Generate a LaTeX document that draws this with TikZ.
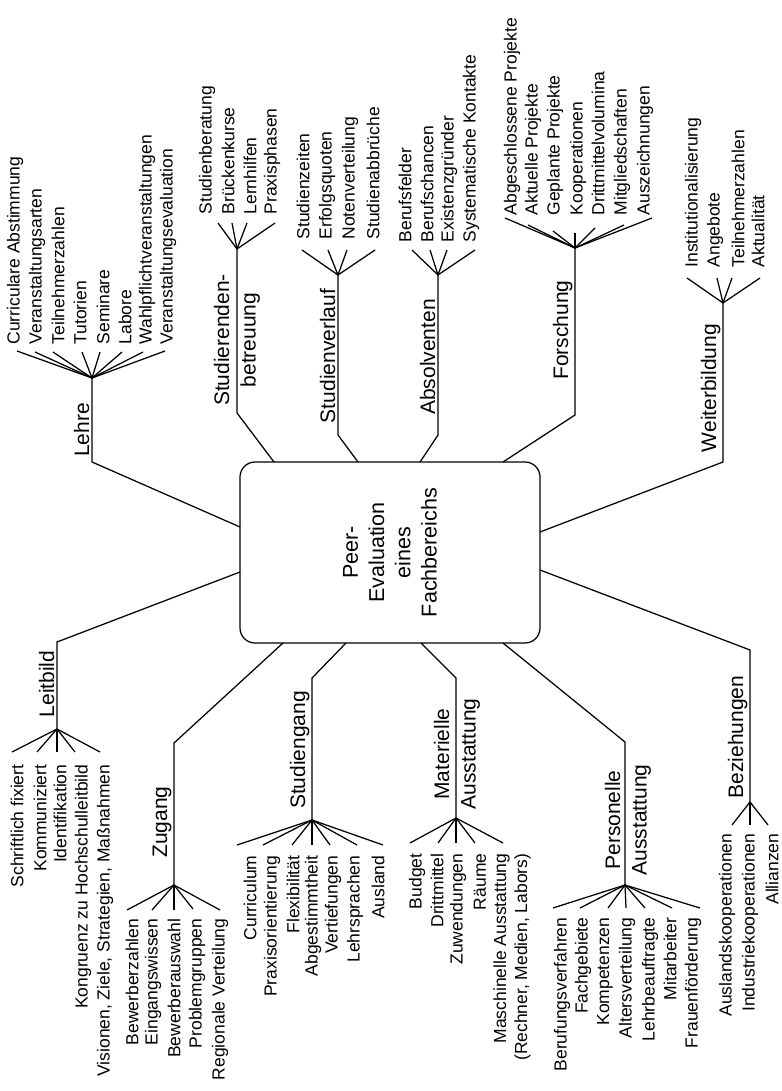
\documentclass[tikz,border=0pt]{standalone}
\usepackage{fontspec}
\setmainfont{Liberation Sans}
\begin{document}
\begin{tikzpicture}[x=1pt,y=-1pt,line width=1.25pt,
  leafT/.style={rotate=90,anchor=west,inner sep=0pt,font=\fontsize{17.5}{21}\selectfont},
  leafB/.style={rotate=90,anchor=east,inner sep=0pt,font=\fontsize{17.5}{21}\selectfont},
  lab/.style={rotate=90,anchor=south,inner sep=2pt,font=\fontsize{21}{26}\selectfont},
  labtwo/.style={rotate=90,anchor=center,align=center,inner sep=0pt,font=\fontsize{21}{26.5}\selectfont},
  hubstyle/.style={draw,rotate=90,rounded corners=15pt,minimum width=181pt,minimum height=300pt,
    align=center,inner sep=0pt,font=\fontsize{21.5}{26.3}\selectfont}]
\useasboundingbox (0,0) rectangle (781,1091);
\fill[white] (0,0) rectangle (781,1091);

\node[hubstyle] (hub) at (390,552.5) {Peer-\\Evaluation\\eines\\Fachbereichs};

% ---------- Lehre ----------
\coordinate (lehre-b) at (240,527);
\coordinate (lehre-k) at (92,462);
\coordinate (lehre-a) at (92,378);
\draw (lehre-b) -- (lehre-k) -- (lehre-a);
\node[lab] (lehre) at (92,430) {Lehre};
\foreach \tx/\ex/\ey/\t [count=\i] in {15/17/351/Curriculare Abstimmung,37/35/352/Veranstaltungsarten,58/53/352/Teilnehmerzahlen,80/82/352/Tutorien,103/100/352/Seminare,125/122/352/Labore,147/143/352/Wahlpflichtveranstaltungen,168/165/351/Veranstaltungsevaluation}{
  \coordinate (lehre-e\i) at (\ex,\ey);
  \draw (lehre-a) -- (lehre-e\i);
  \node[leafT] (lehre-l\i) at (\tx,345) {\t};
}

% ---------- Studierendenbetreuung ----------
\coordinate (sb-b) at (274,462);
\coordinate (sb-k) at (237,413);
\coordinate (sb-a) at (237,249);
\draw (sb-b) -- (sb-k) -- (sb-a);
\node[labtwo] (sb) at (237,340) {Studierenden-\\betreuung};
\foreach \tx/\ex/\ey/\t [count=\i] in {207/218/223/Studienberatung,228/232/223/Brückenkurse,250/247/223/Lernhilfen,272/275/223/Praxisphasen}{
  \coordinate (sb-e\i) at (\ex,\ey);
  \draw (sb-a) -- (sb-e\i);
  \node[leafT] (sb-l\i) at (\tx,215) {\t};
}

% ---------- Studienverlauf ----------
\coordinate (sv-b) at (358,462);
\coordinate (sv-k) at (338,435);
\coordinate (sv-a) at (338,275);
\draw (sv-b) -- (sv-k) -- (sv-a);
\node[lab] (sv) at (338,356) {Studienverlauf};
\foreach \tx/\ex/\ey/\t [count=\i] in {303/302/250/Studienzeiten,327/328/250/Erfolgsquoten,350/347/250/Notenverteilung,373/375/250/Studienabbrüche}{
  \coordinate (sv-e\i) at (\ex,\ey);
  \draw (sv-a) -- (sv-e\i);
  \node[leafT] (sv-l\i) at (\tx,240) {\t};
}

% ---------- Absolventen ----------
\coordinate (ab-b) at (420,462);
\coordinate (ab-k) at (438,435);
\coordinate (ab-a) at (438,275);
\draw (ab-b) -- (ab-k) -- (ab-a);
\node[lab] (ab) at (438,357) {Absolventen};
\foreach \tx/\ex/\ey/\t [count=\i] in {405/412/250/Berufsfelder,427/430/250/Berufschancen,449/447/250/Existenzgründer,471/475/250/Systematische Kontakte}{
  \coordinate (ab-e\i) at (\ex,\ey);
  \draw (ab-a) -- (ab-e\i);
  \node[leafT] (ab-l\i) at (\tx,243) {\t};
}

% ---------- Forschung ----------
\coordinate (fo-b) at (503,462);
\coordinate (fo-k) at (575,415);
\coordinate (fo-a) at (575,248);
\draw (fo-b) -- (fo-k) -- (fo-a);
\node[lab] (fo) at (575,330) {Forschung};
\foreach \tx/\ex/\ey/\t [count=\i] in {512/505/218/Abgeschlossene Projekte,533/528/225/Aktuelle Projekte,555/553/231/Geplante Projekte,578/575/233/Kooperationen,598/595/228/Drittmittelvolumina,622/624/225/Mitgliedschaften,645/652/218/Auszeichnungen}{
  \coordinate (fo-e\i) at (\ex,\ey);
  \draw (fo-a) -- (fo-e\i);
  \node[leafT] (fo-l\i) at (\tx,216) {\t};
}

% ---------- Weiterbildung ----------
\coordinate (wb-b) at (540,532);
\coordinate (wb-k) at (723,462);
\coordinate (wb-a) at (723,303);
\draw (wb-b) -- (wb-k) -- (wb-a);
\node[lab] (wb) at (723,388) {Weiterbildung};
\foreach \tx/\ex/\ey/\t [count=\i] in {693/687/278/Institutionalisierung,715/717/278/Angebote,738/732/278/Teilnehmerzahlen,758/760/278/Aktualität}{
  \coordinate (wb-e\i) at (\ex,\ey);
  \draw (wb-a) -- (wb-e\i);
  \node[leafT] (wb-l\i) at (\tx,268) {\t};
}

% ---------- Leitbild ----------
\coordinate (lb-b) at (240,572);
\coordinate (lb-k) at (57,642);
\coordinate (lb-a) at (57,729);
\draw (lb-b) -- (lb-k) -- (lb-a);
\node[lab] (lb) at (57,684) {Leitbild};
\foreach \tx/\ex/\ey/\t [count=\i] in {17/12/752/Schriftlich fixiert,40/37/752/Kommuniziert,60/57/752/Identifikation,83/75/752/Kongruenz zu Hochschulleitbild,105/100/752/{Visionen, Ziele, Strategien, Maßnahmen}}{
  \coordinate (lb-e\i) at (\ex,\ey);
  \draw (lb-a) -- (lb-e\i);
  \node[leafB] (lb-l\i) at (\tx,764) {\t};
}

% ---------- Zugang ----------
\coordinate (zu-b) at (283,643);
\coordinate (zu-k) at (174,743);
\coordinate (zu-a) at (174,885);
\draw (zu-b) -- (zu-k) -- (zu-a);
\node[lab] (zu) at (174,822) {Zugang};
\foreach \tx/\ex/\ey/\t [count=\i] in {132/127/910/Bewerberzahlen,153/152/910/Eingangswissen,174/174/910/Bewerberauswahl,197/193/909/Problemgruppen,220/220/910/Regionale Verteilung}{
  \coordinate (zu-e\i) at (\ex,\ey);
  \draw (zu-a) -- (zu-e\i);
  \node[leafB] (zu-l\i) at (\tx,918) {\t};
}

% ---------- Studiengang ----------
\coordinate (sg-b) at (346,643);
\coordinate (sg-k) at (312,678);
\coordinate (sg-a) at (312,820);
\draw (sg-b) -- (sg-k) -- (sg-a);
\node[lab] (sg) at (312,750) {Studiengang};
\foreach \tx/\ex/\ey/\t [count=\i] in {250/237/845/Curriculum,272/263/845/Praxisorientierung,293/292/845/Flexibilität,313/312/845/Abgestimmtheit,333/330/845/Vertiefungen,355/357/845/Lehrsprachen,378/383/845/Ausland}{
  \coordinate (sg-e\i) at (\ex,\ey);
  \draw (sg-a) -- (sg-e\i);
  \node[leafB] (sg-l\i) at (\tx,855) {\t};
}

% ---------- Materielle Ausstattung ----------
\coordinate (ma-b) at (421,643);
\coordinate (ma-k) at (456,678);
\coordinate (ma-a) at (456,818);
\draw (ma-b) -- (ma-k) -- (ma-a);
\node[labtwo] (ma) at (457,754) {Materielle\\Ausstattung};
\foreach \tx/\ex/\ey/\t [count=\i] in {417/410/843/Budget,437/438/843/Drittmittel,458/456/843/Zuwendungen,480/475/843/Räume}{
  \coordinate (ma-e\i) at (\ex,\ey);
  \draw (ma-a) -- (ma-e\i);
  \node[leafB] (ma-l\i) at (\tx,853) {\t};
}
\coordinate (ma-e5) at (503,843);
\draw (ma-a) -- (ma-e5);
\node[leafB,align=right] (ma-l5) at (512,853) {Maschinelle Ausstattung\\(Rechner, Medien, Labors)};

% ---------- Personelle Ausstattung ----------
\coordinate (pa-b) at (503,643);
\coordinate (pa-k) at (625,742);
\coordinate (pa-a) at (625,885);
\draw (pa-b) -- (pa-k) -- (pa-a);
\node[labtwo] (pa) at (628,820) {Personelle\\Ausstattung};
\foreach \tx/\ex/\ey/\t [count=\i] in {562/553/908/Berufungsverfahren,583/580/908/Fachgebiete,605/608/908/Kompetenzen,627/626/908/Altersverteilung,650/645/908/Lehrbeauftragte,670/672/908/Mitarbeiter,693/700/908/Frauenförderung}{
  \coordinate (pa-e\i) at (\ex,\ey);
  \draw (pa-a) -- (pa-e\i);
  \node[leafB] (pa-l\i) at (\tx,917) {\t};
}

% ---------- Beziehungen ----------
\coordinate (bz-b) at (540,570);
\coordinate (bz-k) at (750,650);
\coordinate (bz-a) at (750,802);
\draw (bz-b) -- (bz-k) -- (bz-a);
\node[lab] (bz) at (750,737) {Beziehungen};
\foreach \tx/\ex/\ey/\t [count=\i] in {727/732/825/Auslandskooperationen,750/750/825/Industriekooperationen,772/768/825/Allianzen}{
  \coordinate (bz-e\i) at (\ex,\ey);
  \draw (bz-a) -- (bz-e\i);
  \node[leafB] (bz-l\i) at (\tx,833) {\t};
}
\end{tikzpicture}
\end{document}
